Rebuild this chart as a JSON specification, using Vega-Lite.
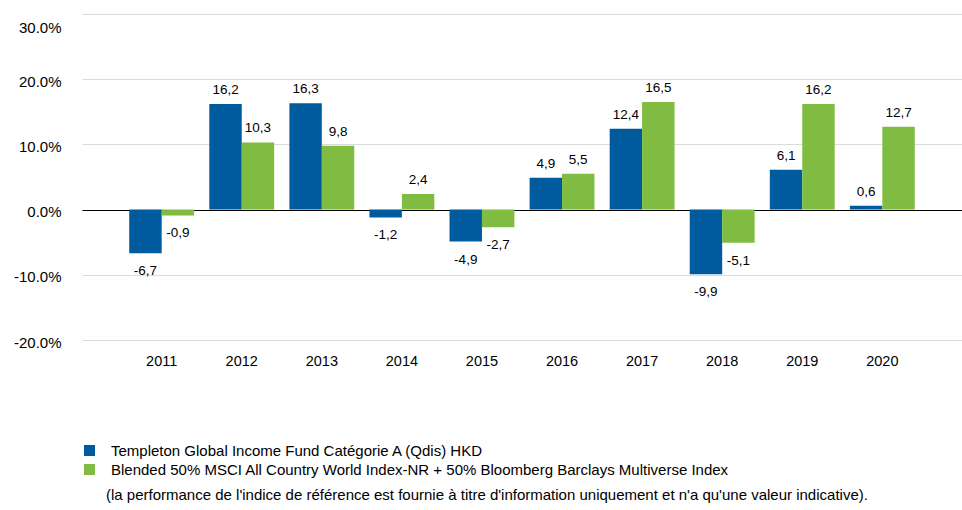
{
  "$schema": "https://vega.github.io/schema/vega-lite/v6.json",
  "width": 880,
  "height": 326,
  "autosize": {"type": "none"},
  "padding": {"left": 82, "top": 14, "right": 0, "bottom": 170},
  "background": "white",
  "data": {
    "values": [
      {"year": "2011", "series": "Templeton Global Income Fund Catégorie A (Qdis) HKD", "value": -6.7},
      {"year": "2011", "series": "Blended 50% MSCI All Country World Index-NR + 50% Bloomberg Barclays Multiverse Index", "value": -0.9},
      {"year": "2012", "series": "Templeton Global Income Fund Catégorie A (Qdis) HKD", "value": 16.2},
      {"year": "2012", "series": "Blended 50% MSCI All Country World Index-NR + 50% Bloomberg Barclays Multiverse Index", "value": 10.3},
      {"year": "2013", "series": "Templeton Global Income Fund Catégorie A (Qdis) HKD", "value": 16.3},
      {"year": "2013", "series": "Blended 50% MSCI All Country World Index-NR + 50% Bloomberg Barclays Multiverse Index", "value": 9.8},
      {"year": "2014", "series": "Templeton Global Income Fund Catégorie A (Qdis) HKD", "value": -1.2},
      {"year": "2014", "series": "Blended 50% MSCI All Country World Index-NR + 50% Bloomberg Barclays Multiverse Index", "value": 2.4},
      {"year": "2015", "series": "Templeton Global Income Fund Catégorie A (Qdis) HKD", "value": -4.9},
      {"year": "2015", "series": "Blended 50% MSCI All Country World Index-NR + 50% Bloomberg Barclays Multiverse Index", "value": -2.7},
      {"year": "2016", "series": "Templeton Global Income Fund Catégorie A (Qdis) HKD", "value": 4.9},
      {"year": "2016", "series": "Blended 50% MSCI All Country World Index-NR + 50% Bloomberg Barclays Multiverse Index", "value": 5.5},
      {"year": "2017", "series": "Templeton Global Income Fund Catégorie A (Qdis) HKD", "value": 12.4},
      {"year": "2017", "series": "Blended 50% MSCI All Country World Index-NR + 50% Bloomberg Barclays Multiverse Index", "value": 16.5},
      {"year": "2018", "series": "Templeton Global Income Fund Catégorie A (Qdis) HKD", "value": -9.9},
      {"year": "2018", "series": "Blended 50% MSCI All Country World Index-NR + 50% Bloomberg Barclays Multiverse Index", "value": -5.1},
      {"year": "2019", "series": "Templeton Global Income Fund Catégorie A (Qdis) HKD", "value": 6.1},
      {"year": "2019", "series": "Blended 50% MSCI All Country World Index-NR + 50% Bloomberg Barclays Multiverse Index", "value": 16.2},
      {"year": "2020", "series": "Templeton Global Income Fund Catégorie A (Qdis) HKD", "value": 0.6},
      {"year": "2020", "series": "Blended 50% MSCI All Country World Index-NR + 50% Bloomberg Barclays Multiverse Index", "value": 12.7}
    ]
  },
  "transform": [
    {"calculate": "replace(replace(format(datum.value, '.1f'), '.', ','), '\u2212', '-')", "as": "label"}
  ],
  "encoding": {
    "x": {
      "field": "year",
      "type": "nominal",
      "scale": {"paddingInner": 0.19, "paddingOuter": 0.59},
      "axis": {
        "title": null,
        "domain": false,
        "ticks": false,
        "labelAngle": 0,
        "labelPadding": 14,
        "labelFont": "Liberation Sans",
        "labelFontSize": 14.5,
        "labelColor": "#000000"
      }
    },
    "xOffset": {
      "field": "series",
      "type": "nominal",
      "sort": ["Templeton Global Income Fund Catégorie A (Qdis) HKD", "Blended 50% MSCI All Country World Index-NR + 50% Bloomberg Barclays Multiverse Index"],
      "scale": {"paddingInner": 0, "paddingOuter": 0}
    },
    "y": {
      "field": "value",
      "type": "quantitative",
      "scale": {"domain": [-20, 30], "nice": false, "zero": true},
      "axis": {
        "title": null,
        "values": [-20, -10, 0, 10, 20, 30],
        "labelExpr": "replace(format(datum.value, '.1f'), '\u2212', '-') + '%'",
        "domain": false,
        "ticks": false,
        "grid": true,
        "gridColor": {"condition": {"test": "datum.value === 0", "value": "#000000"}, "value": "#dcdcdc"},
        "gridWidth": 1,
        "labelPadding": 21,
        "labelOffset": {"condition": {"test": "datum.value === 30", "value": 13}, "value": 2},
        "labelFont": "Liberation Sans",
        "labelFontSize": 15,
        "labelColor": "#000000"
      }
    }
  },
  "layer": [
    {
      "mark": {"type": "bar"},
      "encoding": {
        "color": {
          "field": "series",
          "type": "nominal",
          "sort": ["Templeton Global Income Fund Catégorie A (Qdis) HKD", "Blended 50% MSCI All Country World Index-NR + 50% Bloomberg Barclays Multiverse Index"],
          "scale": {
            "domain": ["Templeton Global Income Fund Catégorie A (Qdis) HKD", "Blended 50% MSCI All Country World Index-NR + 50% Bloomberg Barclays Multiverse Index"],
            "range": ["#005a9e", "#7fbc41"]
          },
          "legend": {
            "title": null,
            "orient": "none",
            "legendX": 0,
            "legendY": 429,
            "padding": 0,
            "symbolType": "square",
            "symbolSize": 121,
            "symbolStrokeWidth": 0,
            "symbolOpacity": 1,
            "labelOffset": 14,
            "labelFont": "Liberation Sans",
            "labelFontSize": 15,
            "labelColor": "#000000",
            "labelLimit": 900,
            "rowPadding": 3
          }
        }
      }
    },
    {
      "transform": [{"filter": "datum.value >= 0"}],
      "mark": {"type": "text", "baseline": "middle", "dy": -14, "font": "Liberation Sans", "fontSize": 13.5, "color": "#000000"},
      "encoding": {"text": {"field": "label"}}
    },
    {
      "transform": [{"filter": "datum.value < 0"}],
      "mark": {"type": "text", "baseline": "middle", "dy": 18, "font": "Liberation Sans", "fontSize": 13.5, "color": "#000000"},
      "encoding": {"text": {"field": "label"}}
    }
  ],
  "title": {
    "text": "(la performance de l'indice de référence est fournie à titre d'information uniquement et n'a qu'une valeur indicative).",
    "orient": "bottom",
    "anchor": "start",
    "frame": "group",
    "dx": 24,
    "offset": 10,
    "font": "Liberation Sans",
    "fontSize": 15,
    "fontWeight": "normal",
    "color": "#000000"
  },
  "config": {"view": {"stroke": null}}
}
